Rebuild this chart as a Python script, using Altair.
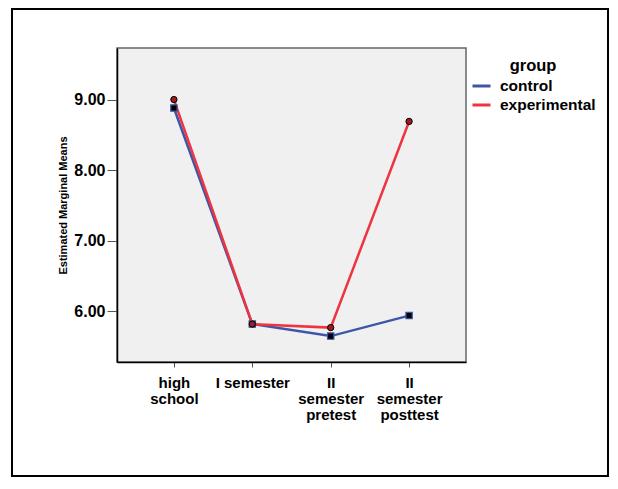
import altair as alt
import pandas as pd

categories = ["high school", "I semester", "II semester pretest", "II semester posttest"]
control = [8.88, 5.82, 5.65, 5.94]
experimental = [9.00, 5.82, 5.77, 8.69]
groups = ["control", "experimental"]
y_ticks = [6, 7, 8, 9]

rows = []
for c, v in zip(categories, control):
    rows.append({"time": c, "group": "control", "mean": v})
for c, v in zip(categories, experimental):
    rows.append({"time": c, "group": "experimental", "mean": v})
df = pd.DataFrame(rows)

FONT = "Liberation Sans"
BLUE = "#3d56a8"
RED = "#ef3340"

x_enc = alt.X(
    "time:N",
    sort=categories,
    scale=alt.Scale(type="point", padding=0.726),
    axis=alt.Axis(
        title=None,
        labelAngle=0,
        labelExpr="datum.value == 'I semester' ? datum.value : split(datum.value, ' ')",
        labelFont=FONT, labelFontSize=15, labelFontWeight="bold", labelColor="black",
        labelBaseline="top", labelLineHeight=16, labelPadding=8,
        tickSize=5, tickColor="#555", domainColor="black", domainWidth=1.5,
    ),
)
y_enc = alt.Y(
    "mean:Q",
    scale=alt.Scale(domain=[5.283, 9.73], nice=False, zero=False),
    axis=alt.Axis(
        title="Estimated Marginal Means",
        values=y_ticks, format=".2f", grid=False,
        labelFont=FONT, labelFontSize=16, labelFontWeight="bold", labelColor="black",
        labelPadding=2, tickSize=10, tickColor="#555", domainColor="black", domainWidth=1.5,
        titleFont=FONT, titleFontSize=11, titleFontWeight="bold", titleColor="black",
        titleX=-54, titleY=157, titleAngle=-90, titleAlign="center", titleBaseline="middle",
    ),
)

lines = alt.Chart(df).mark_line(strokeWidth=2.5).encode(
    x=x_enc, y=y_enc,
    color=alt.Color(
        "group:N",
        scale=alt.Scale(domain=groups, range=[BLUE, RED]),
        legend=alt.Legend(
            title="group", orient="none", legendX=354, legendY=10,
            titleFont=FONT, titleFontSize=16.5, titleFontWeight="bold", titleColor="black",
            titleAnchor="middle", titlePadding=1,
            labelFont=FONT, labelFontSize=15.5, labelFontWeight="bold", labelColor="black",
            symbolType="stroke", symbolStrokeWidth=3, symbolSize=324, labelOffset=8,
            rowPadding=0,
        ),
    ),
    detail="group:N",
)

ctrl_pts = alt.Chart(df).transform_filter(alt.datum.group == "control").mark_point(
    shape="square", filled=True, fill="black", stroke=BLUE, strokeWidth=1.2, size=40, opacity=1
).encode(x=x_enc, y=y_enc)

exp_pts = alt.Chart(df).transform_filter(alt.datum.group == "experimental").mark_point(
    shape="circle", filled=True, fill="#9b1b1f", stroke="black", strokeWidth=1, size=40, opacity=1
).encode(x=x_enc, y=y_enc)

frame = alt.Chart(alt.Data(values=[{}])).mark_rect(
    fillOpacity=0, stroke="black", strokeWidth=2
).encode(
    x=alt.value(-105), x2=alt.value(491), y=alt.value(-39), y2=alt.value(428)
)

chart = alt.layer(lines, ctrl_pts, exp_pts, frame).properties(
    width=349, height=314,
    autosize=alt.AutoSizeParams(type="none"),
    padding={"left": 109, "top": 40, "right": 144, "bottom": 116},
    background="white",
).configure_view(
    fill="#f0f0f0", stroke="#666", strokeWidth=1.5
)

chart.save("out.html", embed_options={"renderer": "svg", "actions": False})
